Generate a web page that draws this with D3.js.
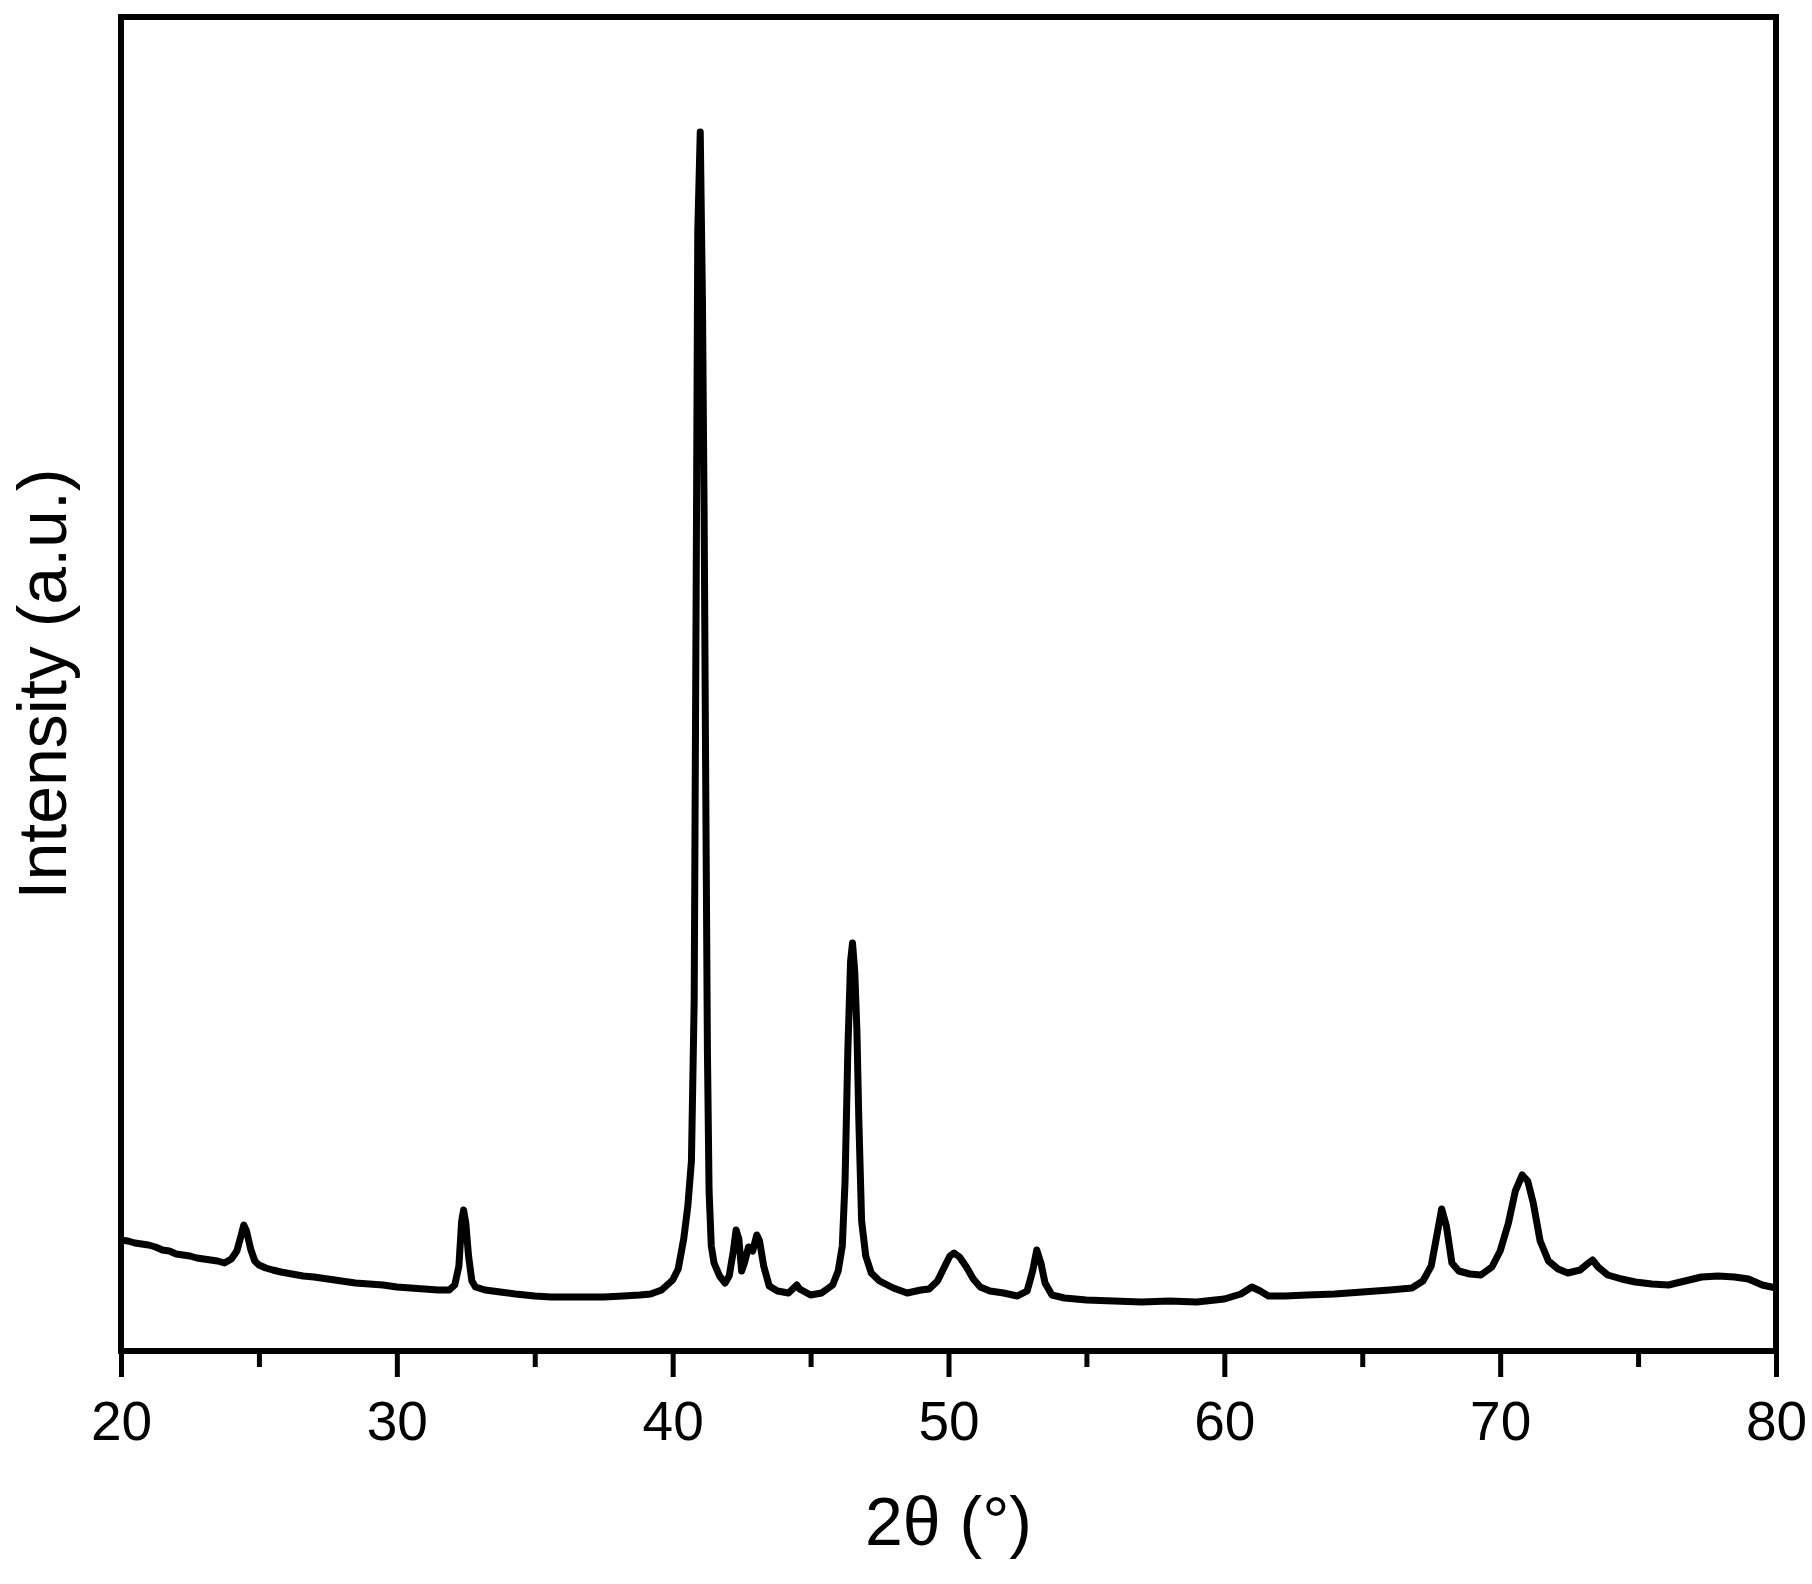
<!DOCTYPE html>
<html>
<head>
<meta charset="utf-8">
<script src="https://cdn.jsdelivr.net/npm/d3@7"></script>
<style>
  body { margin: 0; background: #fff; }
  text { font-family: "Liberation Sans", Arial, sans-serif; fill: #000; }
</style>
</head>
<body>
<div id="chart"></div>
<script>
// XRD pattern, values
var twoTheta = [20.0, 20.25, 20.5, 20.75, 21.0, 21.25, 21.5, 21.75, 22.0, 22.25, 22.5, 22.75, 23.0, 23.25, 23.5, 23.75,
  24.0, 24.2, 24.35, 24.45, 24.55, 24.7, 24.85, 25.0, 25.25, 25.5, 25.8, 26.2, 26.6, 27.0, 27.5, 28.0, 28.5, 29.0, 29.5,
  30.0, 30.5, 31.0, 31.5, 31.9, 32.1, 32.25, 32.35, 32.42, 32.5, 32.6, 32.72, 32.85, 33.2, 33.75, 34.3, 35.0, 35.6, 36.3,
  37.0, 37.5, 38.2, 38.8, 39.2, 39.6, 40.0, 40.2, 40.4, 40.55, 40.68, 40.78, 40.85, 40.91, 41.0, 41.08, 41.14, 41.2,
  41.26, 41.32, 41.4, 41.5, 41.7, 41.9, 42.05, 42.2, 42.3, 42.4, 42.5, 42.6, 42.75, 42.9, 43.05, 43.15, 43.3, 43.5,
  43.8, 44.2, 44.5, 44.6, 45.0, 45.4, 45.8, 46.0, 46.15, 46.25, 46.35, 46.45, 46.52, 46.6, 46.68, 46.75, 46.85, 47.0,
  47.2, 47.5, 48.0, 48.5, 49.0, 49.3, 49.6, 49.85, 50.05, 50.2, 50.4, 50.65, 50.9, 51.15, 51.5, 52.0, 52.5, 52.85,
  53.05, 53.2, 53.35, 53.5, 53.75, 54.2, 55.0, 56.0, 57.0, 58.0, 59.0, 60.0, 60.6, 61.0, 61.3, 61.6, 62.2, 63.0, 64.0,
  65.0, 66.0, 66.8, 67.2, 67.5, 67.7, 67.88, 68.05, 68.25, 68.5, 68.9, 69.3, 69.7, 70.0, 70.3, 70.55, 70.8, 71.0, 71.2,
  71.45, 71.75, 72.1, 72.45, 72.9, 73.2, 73.35, 73.55, 73.9, 74.4, 74.9, 75.5, 76.1, 76.7, 77.3, 77.9, 78.5, 79.0,
  79.5, 80.0];

var intensity = [111, 110, 108, 107, 106, 104, 101, 100, 97, 96, 95, 93, 92, 91, 90, 88,
  92, 100, 115, 126, 120, 102, 90, 86, 83, 81, 79, 77, 75, 74, 72, 70, 68, 67, 66,
  64, 63, 62, 61, 61, 66, 85, 130, 141, 128, 95, 70, 64, 61, 59, 57, 55, 54, 54,
  54, 54, 55, 56, 57, 61, 71, 82, 112, 145, 190, 350, 750, 1120, 1219, 1050, 840, 560,
  300, 160, 105, 88, 75, 68, 75, 100, 121, 112, 80, 88, 104, 100, 116, 110, 85, 65,
  60, 58, 66, 62, 56, 58, 66, 80, 105, 170, 300, 390, 408, 380, 320, 230, 130, 95,
  78, 70, 63, 58, 61, 62, 70, 84, 95, 98, 94, 84, 72, 64, 60, 58, 55, 60,
  80, 101, 88, 68, 56, 53, 51, 50, 49, 50, 49, 52, 57, 64, 60, 55, 55, 56, 57,
  59, 61, 63, 70, 85, 115, 142, 125, 88, 80, 77, 76, 84, 100, 128, 160, 176, 170, 148,
  110, 90, 82, 78, 81, 88, 91, 84, 76, 72, 69, 67, 66, 70, 74, 75, 74, 72,
  66, 63];

var majorTicks = [20, 30, 40, 50, 60, 70, 80];
var minorTicks = [25, 35, 45, 55, 65, 75];
var xTitle = "2θ (°)";
var yTitle = "Intensity (a.u.)";

var width = 1812, height = 1584;
var plotLeft = 121, plotRight = 1776, plotTop = 17, plotBottom = 1351;

var svg = d3.select("#chart").append("svg")
  .attr("width", width)
  .attr("height", height);

var x = d3.scaleLinear().domain([20, 80]).range([plotLeft, plotRight]);
var y = d3.scaleLinear().domain([0, 1334]).range([plotBottom, plotTop]);

var pts = twoTheta.map(function(t, i) { return [t, intensity[i]]; });

var line = d3.line()
  .x(function(d) { return x(d[0]); })
  .y(function(d) { return y(d[1]); });

svg.append("path")
  .datum(pts)
  .attr("d", line)
  .attr("fill", "none")
  .attr("stroke", "#000")
  .attr("stroke-width", 7)
  .attr("stroke-linejoin", "round");

// minor ticks
var minorAxis = svg.append("g")
  .attr("transform", "translate(0," + plotBottom + ")")
  .call(d3.axisBottom(x).tickValues(minorTicks).tickSize(16).tickFormat(""));
minorAxis.select(".domain").remove();
minorAxis.selectAll("line").attr("stroke", "#000").attr("stroke-width", 5);

// major ticks and labels
var majorAxis = svg.append("g")
  .attr("transform", "translate(0," + plotBottom + ")")
  .call(d3.axisBottom(x).tickValues(majorTicks).tickSize(26).tickFormat(d3.format("d")));
majorAxis.select(".domain").remove();
majorAxis.selectAll("line").attr("stroke", "#000").attr("stroke-width", 5);
majorAxis.selectAll("text")
  .attr("y", 89)
  .attr("dy", 0)
  .attr("fill", "#000")
  .style("font-size", "55px")
  .style("font-family", "'Liberation Sans', Arial, sans-serif");

// frame
svg.append("rect")
  .attr("x", plotLeft)
  .attr("y", plotTop)
  .attr("width", plotRight - plotLeft)
  .attr("height", plotBottom - plotTop)
  .attr("fill", "none")
  .attr("stroke", "#000")
  .attr("stroke-width", 6);

svg.append("text")
  .attr("x", (plotLeft + plotRight) / 2)
  .attr("y", 1545)
  .attr("text-anchor", "middle")
  .style("font-size", "68px")
  .text(xTitle);

svg.append("text")
  .attr("transform", "translate(66," + ((plotTop + plotBottom) / 2) + ") rotate(-90)")
  .attr("text-anchor", "middle")
  .style("font-size", "68px")
  .text(yTitle);
</script>
</body>
</html>
